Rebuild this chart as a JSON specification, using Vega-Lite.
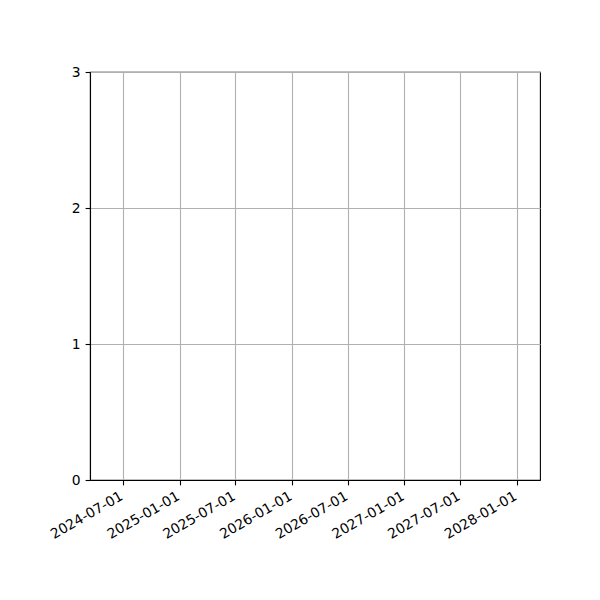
{
  "$schema": "https://vega.github.io/schema/vega-lite/v6.json",
  "width": 450,
  "height": 408,
  "autosize": {"type": "none"},
  "padding": {"left": 90, "top": 72, "right": 60, "bottom": 120},
  "background": "white",
  "config": {
    "font": "DejaVu Sans",
    "view": {"stroke": "black", "strokeWidth": 1.1},
    "axis": {
      "labelFont": "DejaVu Sans",
      "labelFontSize": 13.9,
      "labelColor": "black",
      "domainColor": "black",
      "domainWidth": 1.1,
      "tickColor": "black",
      "tickSize": 4.9,
      "tickWidth": 1.1,
      "grid": true,
      "gridColor": "#b0b0b0",
      "gridWidth": 1.1,
      "title": null
    }
  },
  "data": {
    "values": [
      {"date": "2024-07-01", "value": null},
      {"date": "2025-07-01", "value": null},
      {"date": "2026-07-01", "value": null},
      {"date": "2027-07-01", "value": null}
    ]
  },
  "mark": {"type": "line", "color": "#1f77b4"},
  "encoding": {
    "x": {
      "field": "date",
      "type": "temporal",
      "scale": {
        "type": "utc",
        "domain": [
          {"year": 2024, "month": 3, "date": 16, "utc": true},
          {"year": 2028, "month": 3, "date": 16, "utc": true}
        ]
      },
      "axis": {
        "values": [
          {"year": 2024, "month": 7, "date": 1, "utc": true},
          {"year": 2025, "month": 1, "date": 1, "utc": true},
          {"year": 2025, "month": 7, "date": 1, "utc": true},
          {"year": 2026, "month": 1, "date": 1, "utc": true},
          {"year": 2026, "month": 7, "date": 1, "utc": true},
          {"year": 2027, "month": 1, "date": 1, "utc": true},
          {"year": 2027, "month": 7, "date": 1, "utc": true},
          {"year": 2028, "month": 1, "date": 1, "utc": true}
        ],
        "labelExpr": "utcFormat(datum.value, '%Y-%m-%d')",
        "labelAngle": -30,
        "labelAlign": "right",
        "labelBaseline": "top",
        "labelPadding": 4,
        "labelOffset": -5,
        "labelOverlap": false,
        "labelFlush": false
      }
    },
    "y": {
      "field": "value",
      "type": "quantitative",
      "scale": {"domain": [0, 3], "nice": false, "zero": false},
      "axis": {"values": [0, 1, 2, 3], "labelPadding": 4.9}
    }
  }
}
